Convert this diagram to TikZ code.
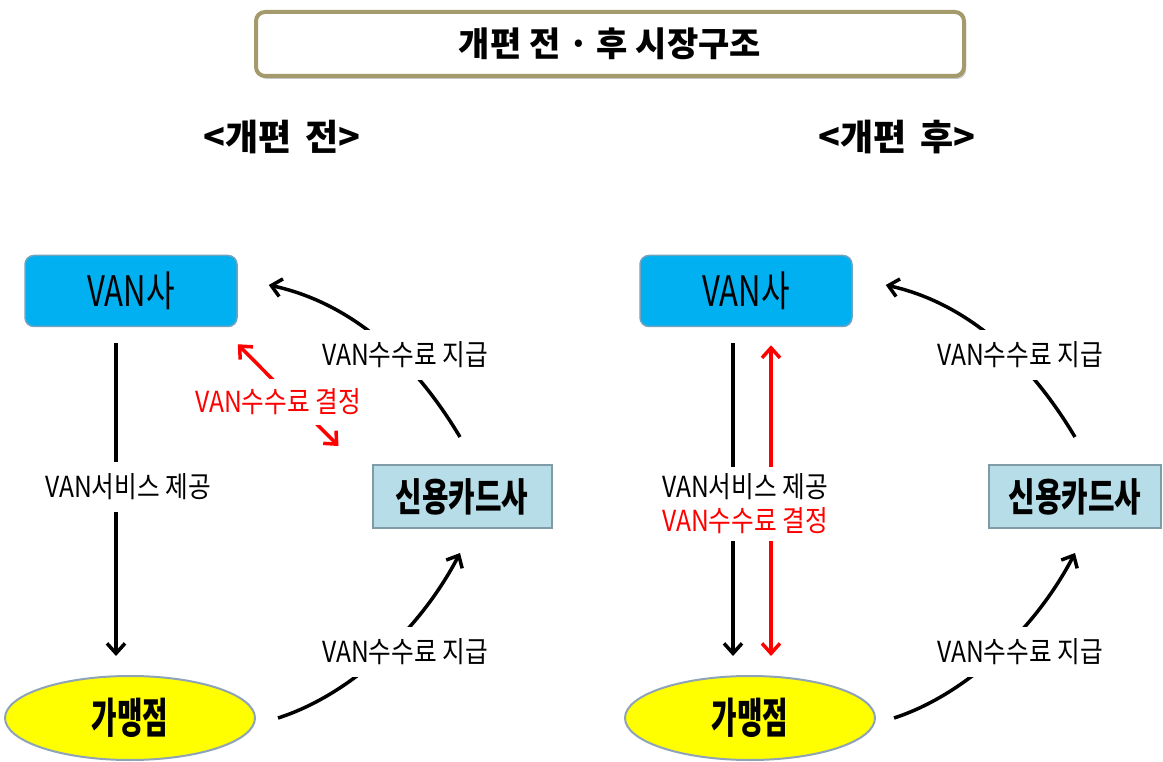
\documentclass[tikz,border=0pt]{standalone}
\usepackage{fontspec}
\setmainfont{Noto Sans CJK KR}
\newfontfamily\lblfont{Noto Sans CJK KR}[FakeStretch=0.85]
\newfontfamily\boxfont{Noto Sans CJK KR}[FakeStretch=0.74]
\newfontfamily\gmfont{Noto Sans CJK KR}[FakeStretch=0.66]
\usetikzlibrary{arrows.meta,shadows,shapes.geometric}
\definecolor{vanblue}{HTML}{00B0F0}
\definecolor{vanedge}{HTML}{6FA3C0}
\definecolor{cardfill}{HTML}{B7DEE8}
\definecolor{cardedge}{HTML}{7F9BA5}
\definecolor{gmfill}{HTML}{FFFF00}
\definecolor{gmedge}{HTML}{8FA3B8}
\definecolor{titleedge}{HTML}{A59A6B}
\definecolor{arrred}{HTML}{FF0000}
\tikzset{
  vanbox/.style={draw=vanedge, line width=1.5pt, fill=vanblue, rounded corners=9pt,
    minimum width=212pt, minimum height=71pt, inner sep=0pt,
    font=\boxfont\fontsize{42}{44}\selectfont},
  cardbox/.style={draw=cardedge, line width=2pt, fill=cardfill,
    minimum height=63pt, inner sep=0pt,
    font=\boxfont\bfseries\fontsize{39}{42}\selectfont},
  gmnode/.style={ellipse, draw=gmedge, line width=2pt, fill=gmfill,
    minimum width=250pt, minimum height=84pt, inner sep=0pt,
    font=\gmfont\bfseries\fontsize{42}{44}\selectfont},
  lbl/.style={fill=white, inner xsep=2pt, inner ysep=12pt,
    font=\lblfont\fontsize{29}{31}\selectfont},
  redlbl/.style={lbl, text=arrred},
  blk/.style={line width=3.5pt, -{Straight Barb[length=10pt,width=18pt]}},
  redarr/.style={draw=arrred, line width=3.5pt,
    {Straight Barb[length=10pt,width=18pt]}-{Straight Barb[length=10pt,width=18pt]}},
  titlebox/.style={draw=titleedge, line width=4pt, fill=white, rounded corners=9pt,
    minimum width=708pt, minimum height=64pt, inner sep=0pt,
    drop shadow={shadow xshift=2pt, shadow yshift=-3pt, opacity=0.45},
    font=\bfseries\fontsize{34}{36}\selectfont},
  head/.style={font=\bfseries\fontsize{36}{38}\selectfont}
}
\begin{document}
\begin{tikzpicture}[x=1pt,y=-1pt]
\useasboundingbox (0,0) rectangle (1163,762);
% title
\node[titlebox] (title) at (610,44) {개편 전 · 후 시장구조};
\node[head] (head1) at (282,137) {<개편\hspace{0.4em}전>};
\node[head] (head2) at (897,137) {<개편\hspace{0.4em}후>};
% ---------- left panel ----------
\node[vanbox] (van1) at (131,291) {VAN사};
\node[cardbox, minimum width=179pt] (card1) at (462,496.5) {신용카드사};
\node[gmnode] (gm1) at (130,718) {가맹점};
\draw[blk] ([xshift=-15pt,yshift=-16pt]van1.south) -- ([xshift=-14pt,yshift=19pt]gm1.north);
\node[lbl] (l1) at (128,487) {VAN서비스 제공};
\draw[redarr] ([yshift=-17pt]van1.south east) -- ([xshift=-33pt,yshift=18pt]card1.north west);
\node[redlbl, inner ysep=10pt] (l2) at (278,402) {VAN수수료 결정};
\draw[blk] ([xshift=-2pt,yshift=27pt]card1.north) .. controls (420,370) and (360,305) .. ([xshift=31pt,yshift=6pt]van1.east);
\node[lbl] (l3) at (405,355) {VAN수수료 지급};
\draw[blk] ([xshift=22pt]gm1.east) .. controls (350,695) and (420,630) .. ([xshift=-2pt,yshift=-24pt]card1.south);
\node[lbl] (l4) at (405,652) {VAN수수료 지급};
% ---------- right panel ----------
\node[vanbox] (van2) at (746,291) {VAN사};
\node[cardbox, minimum width=172pt] (card2) at (1075,496.5) {신용카드사};
\node[gmnode] (gm2) at (750,718) {가맹점};
\draw[blk] ([xshift=-13pt,yshift=-16pt]van2.south) -- ([xshift=-17pt,yshift=19pt]gm2.north);
\draw[redarr] ([xshift=25pt,yshift=-18pt]van2.south) -- ([xshift=21pt,yshift=19pt]gm2.north);
\node[lbl, inner ysep=7pt] (r1) at (745,487) {VAN서비스 제공};
\node[redlbl, inner ysep=7pt] (r2) at (745,521) {VAN수수료 결정};
\draw[blk] ([yshift=27pt]card2.north) .. controls (1035,370) and (975,305) .. ([xshift=33pt,yshift=6pt]van2.east);
\node[lbl] (r3) at (1020,355) {VAN수수료 지급};
\draw[blk] ([xshift=18pt]gm2.east) .. controls (965,695) and (1035,630) .. ([yshift=-24pt]card2.south);
\node[lbl] (r4) at (1020,652) {VAN수수료 지급};
\end{tikzpicture}
\end{document}
